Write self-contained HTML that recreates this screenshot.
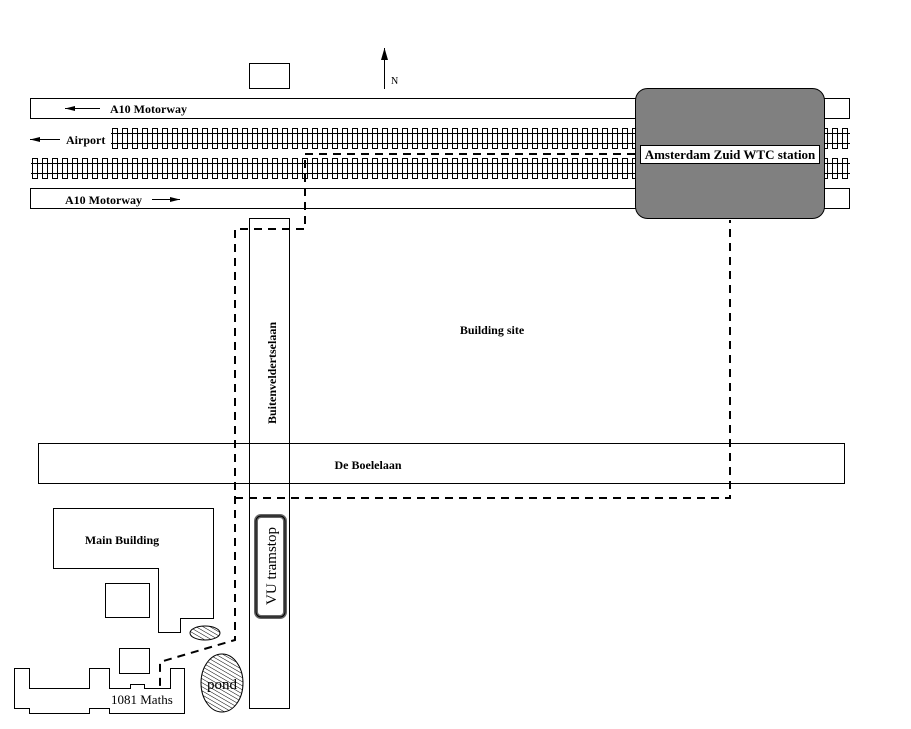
<!DOCTYPE html>
<html><head><meta charset="utf-8"><style>
html,body{margin:0;padding:0;background:#fff;}
svg{display:block;}
text{font-family:"Liberation Serif",serif;font-weight:bold;font-size:12px;fill:#000;}
</style></head><body>
<svg width="911" height="729" viewBox="0 0 911 729" xmlns="http://www.w3.org/2000/svg">
<defs>
<pattern id="sl" x="112" y="0" width="10" height="729" patternUnits="userSpaceOnUse">
<rect x="0.5" y="128.5" width="5" height="20" fill="#fff" stroke="#000" stroke-width="1"/>
<rect x="0.5" y="158.5" width="5" height="20" fill="#fff" stroke="#000" stroke-width="1"/>
</pattern>
<pattern id="hatch" width="3.5" height="3.5" patternUnits="userSpaceOnUse" patternTransform="rotate(30)">
<line x1="0" y1="0" x2="4" y2="0" stroke="#000" stroke-width="1"/>
</pattern>
</defs>
<g fill="none" stroke="#000" stroke-width="1">
<rect x="249.5" y="63.5" width="40" height="25"/>
<rect x="30.5" y="98.5" width="819" height="20"/>
<rect x="30.5" y="188.5" width="819" height="20"/>
<rect x="111" y="128" width="740" height="21" fill="url(#sl)" stroke="none"/>
<rect x="31" y="158" width="820" height="21" fill="url(#sl)" stroke="none"/>
<line x1="111" y1="133.5" x2="850" y2="133.5"/>
<line x1="111" y1="143.5" x2="850" y2="143.5"/>
<line x1="31" y1="163.5" x2="850" y2="163.5"/>
<line x1="31" y1="173.5" x2="850" y2="173.5"/>
<rect x="249.5" y="218.5" width="40" height="490"/>
<rect x="38.5" y="443.5" width="806" height="40"/>
<g stroke-width="2" stroke-dasharray="8,6">
<polyline points="635,154 305,154 305,229 235,229 235,640 160,662 160,690"/>
<polyline points="235,498 730,498 730,220"/>
</g>
<rect x="635.5" y="88.5" width="189" height="130" rx="12" fill="#808080"/>
<rect x="640.5" y="145.5" width="179" height="18" fill="#fff"/>
<line x1="384.5" y1="48" x2="384.5" y2="89"/>
<line x1="65" y1="108.5" x2="100" y2="108.5"/>
<line x1="30" y1="139.5" x2="60" y2="139.5"/>
<line x1="152" y1="199.5" x2="180" y2="199.5"/>
<polygon points="53.5,508.5 213.5,508.5 213.5,618.5 180.5,618.5 180.5,632.5 158.5,632.5 158.5,568.5 53.5,568.5"/>
<rect x="105.5" y="583.5" width="44" height="34"/>
<rect x="119.5" y="648.5" width="30" height="25"/>
<polygon points="14.5,668.5 29.5,668.5 29.5,688.5 89.5,688.5 89.5,668.5 109.5,668.5 109.5,688.5 130.5,688.5 130.5,684.5 144.5,684.5 144.5,688.5 170.5,688.5 170.5,668.5 184.5,668.5 184.5,713.5 109.5,713.5 109.5,708.5 89.5,708.5 89.5,713.5 29.5,713.5 29.5,708.5 14.5,708.5"/>
<ellipse cx="205" cy="633" rx="15" ry="7" fill="url(#hatch)"/>
<ellipse cx="222" cy="683" rx="21" ry="29" fill="url(#hatch)"/>
<rect x="256" y="516" width="29" height="101" rx="5" fill="#fff" stroke="#666" stroke-width="4"/>
<rect x="256" y="516" width="29" height="101" rx="5" stroke="#000" stroke-width="1"/>
</g>
<polygon points="384.5,48 381,60 388,60" fill="#000"/>
<polygon points="65,108.5 75,106 75,111" fill="#000"/>
<polygon points="30,139.5 40,137 40,142" fill="#000"/>
<polygon points="180,199.5 170,197 170,202" fill="#000"/>
<text x="391" y="84" style="font-weight:normal;font-size:10px">N</text>
<text x="110" y="113">A10 Motorway</text>
<text x="66" y="144">Airport</text>
<text x="65" y="204">A10 Motorway</text>
<text x="730" y="159" text-anchor="middle" style="font-size:13px">Amsterdam Zuid WTC station</text>
<text x="492" y="334" text-anchor="middle">Building site</text>
<text x="368" y="469" text-anchor="middle">De Boelelaan</text>
<text x="122" y="544" text-anchor="middle">Main Building</text>
<text transform="translate(276,373) rotate(-90)" text-anchor="middle">Buitenveldertselaan</text>
<text transform="translate(276,566) rotate(-90)" text-anchor="middle" style="font-size:15px;font-weight:normal">VU tramstop</text>
<text x="111" y="704" style="font-size:13px;font-weight:normal">1081 Maths</text>
<text x="222" y="689" text-anchor="middle" style="font-size:15px;font-weight:normal">pond</text>
</svg>
</body></html>
